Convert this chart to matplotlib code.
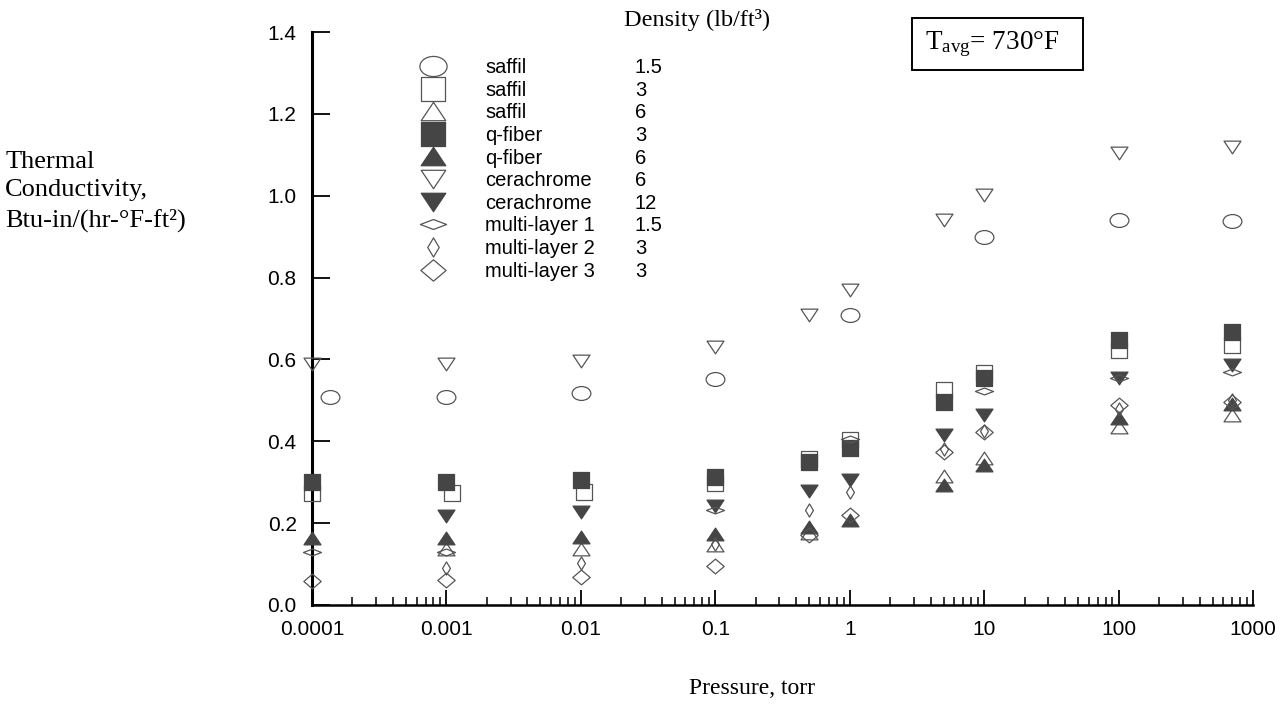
import numpy as np
import matplotlib
matplotlib.use("Agg")
import matplotlib.pyplot as plt
from matplotlib.path import Path
from matplotlib.patches import Rectangle
from matplotlib.lines import Line2D
from matplotlib.ticker import LogLocator, NullFormatter

plt.rcParams['font.family'] = ['Liberation Sans', 'DejaVu Sans']
plt.rcParams['mathtext.fontset'] = 'custom'
plt.rcParams['mathtext.rm'] = 'Liberation Serif'
plt.rcParams['mathtext.it'] = 'Liberation Serif:italic'

# Data: pressure (torr) and conductivity, Btu-in/(hr-F-ft2)
p_saffil_15 = [1.35e-4, 1e-3, 1e-2, 0.1, 1, 10, 100, 700]
k_saffil_15 = [0.509, 0.509, 0.517, 0.552, 0.709, 0.900, 0.941, 0.937]

p_saffil_3 = [1e-4, 1.1e-3, 1.05e-2, 0.1, 0.5, 1, 5, 10, 100, 700]
k_saffil_3 = [0.273, 0.273, 0.275, 0.297, 0.356, 0.403, 0.525, 0.566, 0.623, 0.635]

p_saffil_6 = [1e-3, 1e-2, 0.1, 0.5, 5, 10, 100, 700]
k_saffil_6 = [0.137, 0.138, 0.147, 0.175, 0.314, 0.358, 0.436, 0.464]

p_qfiber_3 = [1e-4, 1e-3, 1e-2, 0.1, 0.5, 1, 5, 10, 100, 700]
k_qfiber_3 = [0.301, 0.301, 0.305, 0.313, 0.350, 0.383, 0.497, 0.554, 0.647, 0.666]

p_qfiber_6 = [1e-4, 1e-3, 1e-2, 0.1, 0.5, 1, 5, 10, 100, 700]
k_qfiber_6 = [0.163, 0.163, 0.167, 0.173, 0.191, 0.208, 0.293, 0.342, 0.456, 0.490]

p_cera_6 = [1e-4, 1e-3, 1e-2, 0.1, 0.5, 1, 5, 10, 100, 700]
k_cera_6 = [0.590, 0.589, 0.597, 0.631, 0.709, 0.770, 0.941, 1.002, 1.104, 1.120]

p_cera_12 = [1e-3, 1e-2, 0.1, 0.5, 1, 5, 10, 100, 700]
k_cera_12 = [0.218, 0.228, 0.243, 0.279, 0.305, 0.415, 0.464, 0.554, 0.586]

p_ml1 = [1e-4, 1e-3, 0.1, 1, 10, 100, 700]
k_ml1 = [0.130, 0.130, 0.232, 0.405, 0.524, 0.555, 0.570]

p_ml2 = [1e-3, 1e-2, 0.1, 0.5, 1, 5, 10, 100, 700]
k_ml2 = [0.091, 0.103, 0.150, 0.232, 0.275, 0.380, 0.425, 0.480, 0.500]

p_ml3 = [1e-4, 1e-3, 1e-2, 0.1, 0.5, 1, 5, 10, 100, 700]
k_ml3 = [0.059, 0.061, 0.068, 0.096, 0.170, 0.220, 0.375, 0.423, 0.489, 0.497]

names = ["saffil", "saffil", "saffil", "q-fiber", "q-fiber", "cerachrome",
         "cerachrome", "multi-layer 1", "multi-layer 2", "multi-layer 3"]
densities = ["1.5", "3", "6", "3", "6", "6", "12", "1.5", "3", "3"]

pressures = [p_saffil_15, p_saffil_3, p_saffil_6, p_qfiber_3, p_qfiber_6,
             p_cera_6, p_cera_12, p_ml1, p_ml2, p_ml3]
values = [k_saffil_15, k_saffil_3, k_saffil_6, k_qfiber_3, k_qfiber_6,
          k_cera_6, k_cera_12, k_ml1, k_ml2, k_ml3]


def poly(pts):
    return Path(pts + [pts[0]], closed=True)


circ = Path.unit_circle()
ellipse = Path(circ.vertices * [1.0, 0.74], circ.codes)
square = poly([(-1, -1), (1, -1), (1, 1), (-1, 1)])
tri_up = poly([(-1, -0.75), (1, -0.75), (0, 0.75)])
tri_dn = poly([(-1, 0.75), (1, 0.75), (0, -0.75)])
flat_dia = poly([(-1, 0), (0, 0.38), (1, 0), (0, -0.38)])
thin_dia = poly([(-0.6, 0), (0, 1), (0.6, 0), (0, -1)])
dia = poly([(-1, 0), (0, 0.85), (1, 0), (0, -0.85)])

dark = "#454545"
edge = "#555555"
# marker, filled, size
styles = [
    (ellipse, False, 13.5),
    (square, False, 11.5),
    (tri_up, False, 12.2),
    (square, True, 11.5),
    (tri_up, True, 12.2),
    (tri_dn, False, 12.2),
    (tri_dn, True, 12.2),
    (flat_dia, False, 13.0),
    (thin_dia, False, 9.5),
    (dia, False, 12.5),
]

fig = plt.figure(figsize=(12.8, 7.05), dpi=100)
ax = fig.add_axes([312 / 1280, 1 - 605 / 705, 941 / 1280, 573 / 705])

handles = []
for p, k, (m, filled, ms) in zip(pressures, values, styles):
    line, = ax.plot(p, k, linestyle="none", marker=m, markersize=ms,
                    markerfacecolor=dark if filled else "none",
                    markeredgecolor=dark if filled else edge,
                    markeredgewidth=0.9, clip_on=False, zorder=3)
    handles.append(line)

ax.set_xscale("log")
ax.set_xlim(1e-4, 1e3)
ax.set_ylim(0, 1.4)

xt = [1e-4, 1e-3, 1e-2, 1e-1, 1, 10, 100, 1000]
ax.set_xticks(xt)
ax.set_xticklabels(["0.0001", "0.001", "0.01", "0.1", "1", "10", "100", "1000"])
ax.xaxis.set_minor_locator(LogLocator(base=10, subs=np.arange(2, 10), numticks=20))
ax.xaxis.set_minor_formatter(NullFormatter())
yt = np.arange(0, 1.41, 0.2)
ax.set_yticks(yt)
ax.set_yticklabels([f"{v:.1f}" for v in yt])

ax.tick_params(axis="both", which="major", direction="in", labelsize=15,
               pad=11, width=1.3, color="black")
ax.tick_params(axis="x", which="major", length=11)
ax.tick_params(axis="y", which="major", length=13)
ax.tick_params(axis="x", which="minor", direction="in", length=6, width=1.1)

for s in ["top", "right"]:
    ax.spines[s].set_visible(False)
ax.spines["left"].set_linewidth(2.2)
ax.spines["bottom"].set_linewidth(1.8)

ax.set_ylabel("Thermal\nConductivity,\nBtu-in/(hr-°F-ft²)", rotation=0,
              ha="left", va="center", multialignment="left",
              family="Liberation Serif", fontsize=19, linespacing=1.38)
ax.yaxis.set_label_coords(-0.326, 0.722)
ax.set_xlabel("Pressure, torr", family="Liberation Serif", fontsize=17,
              va="center")
ax.xaxis.set_label_coords((752 - 312) / 941, (605 - 689) / 573)

# legend: markers + material names, and density column
top = 1 - 58 / 705
fig.legend(handles, names, loc="upper left", bbox_to_anchor=(415 / 1280, top),
           frameon=False, borderpad=0, borderaxespad=0, handlelength=1.79,
           handletextpad=1.69, labelspacing=0.18, markerscale=1.45,
           fontsize=14.5)
blank = [Line2D([], [], linestyle="none") for _ in densities]
fig.legend(blank, densities, loc="upper left", bbox_to_anchor=(635 / 1280, top),
           frameon=False, borderpad=0, borderaxespad=0, handlelength=0,
           handletextpad=0, labelspacing=0.18, fontsize=14.5)

fig.text(697 / 1280, 1 - 20 / 705, "Density (lb/ft³)", family="Liberation Serif",
         fontsize=17.5, ha="center", va="center")

fig.add_artist(Rectangle((912 / 1280, 1 - 70 / 705), 171 / 1280, 52 / 705,
                         transform=fig.transFigure, fill=False,
                         edgecolor="black", linewidth=1.4))
fig.text(992 / 1280, 1 - 44 / 705, r"$\mathrm{T}_{\mathrm{avg}}$= 730°F",
         family="Liberation Serif", fontsize=19.5, ha="center", va="center")

fig.savefig("out.png", dpi=100)
